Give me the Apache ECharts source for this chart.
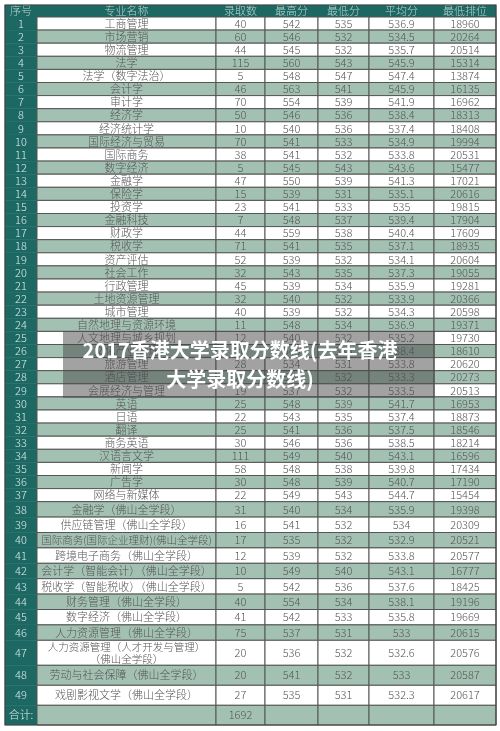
<!DOCTYPE html>
<html><head><meta charset="utf-8">
<script src="https://cdn.jsdelivr.net/npm/echarts@6/dist/echarts.min.js"></script>
<style>html,body{margin:0;padding:0;background:#fff}#c{width:500px;height:731px}</style>
</head><body><div id="c"></div>
<script>
const headers = ['序号','专业名称','录取数','最高分','最低分','平均分','最低排位'];
const majors = ['工商管理','市场营销','物流管理','法学','法学（数字法治）','会计学','审计学','经济学','经济统计学','国际经济与贸易','国际商务','数字经济','金融学','保险学','投资学','金融科技','财政学','税收学','资产评估','社会工作','行政管理','土地资源管理','城市管理','自然地理与资源环境','人文地理与城乡规划','文化产业管理','旅游管理','酒店管理','会展经济与管理','英语','日语','翻译','商务英语','汉语言文学','新闻学','广告学','网络与新媒体','金融学（佛山全学段）','供应链管理（佛山全学段）','国际商务(国际企业理财)(佛山全学段)','跨境电子商务（佛山全学段）','会计学（智能会计）（佛山全学段）','税收学（智能税收）（佛山全学段）','财务管理（佛山全学段）','数字经济（佛山全学段）','人力资源管理（佛山全学段）','人力资源管理（人才开发与管理）\n（佛山全学段）','劳动与社会保障（佛山全学段）','戏剧影视文学（佛山全学段）'];
const admitted = [40,60,44,115,5,46,70,50,10,70,38,5,47,15,23,7,44,71,52,32,45,32,40,11,12,20,28,21,19,25,22,25,30,111,58,30,22,31,16,17,12,10,5,40,41,75,20,20,27];
const maxScore = [542,546,545,560,548,563,554,546,540,541,541,545,550,539,541,548,559,541,539,543,539,540,539,548,540,545,534,540,537,548,543,541,546,549,548,548,549,540,541,535,539,549,542,554,542,537,536,541,535];
const minScore = [535,532,532,543,547,541,539,536,536,533,532,543,539,531,533,537,538,535,532,535,534,532,532,534,532,535,531,532,532,539,535,536,536,540,538,539,543,534,532,532,532,540,536,534,533,531,532,532,531];
const avgScore = ['536.9','534.5','535.7','545.9','547.4','545.9','541.9','538.4','537.4','534.9','533.8','543.6','541.3','535.1','535','539.4','540.4','537.1','534.1','537.3','535.9','533.9','534.3','536.9','535.2','538.4','533.8','533.3','533.5','541.7','537.4','537.5','538.5','543.1','539.8','540.7','544.7','535.9','534','532.9','533.8','543.1','537.6','538.1','535.8','533','532.6','533','532.3'];
const minRank = [18960,20264,20514,15314,13874,16135,16962,18313,18408,19994,20531,15477,17021,20616,19815,17904,17609,18935,20604,19055,19281,20366,20598,19371,19730,18610,20620,20273,20513,16953,18873,18546,18214,16596,17434,17190,15454,19398,20309,20521,20577,16777,18425,19196,19669,20615,20576,20587,20617];
const totalLabel = '合计:';
const totalAdmitted = 1692;
const title = '2017香港大学录取分数线(去年香港\n大学录取分数线)';

// layout (pixels)
const colX = [5,37,216,265,318,369,434,496];
const rowY = [5,17];
{ let y=17; for (let i=0;i<49;i++){ let h = i<37?13.1:(i<46?15.4:(i===46?25:20)); y+=h; rowY.push(y);} rowY.push(725); }

const cells = [];
headers.forEach((h,c)=>cells.push({r:0,c,t:h,kind:'head'}));
for (let i=0;i<49;i++){
  const vals=[String(i+1),majors[i],admitted[i],maxScore[i],minScore[i],avgScore[i],minRank[i]];
  vals.forEach((v,c)=>cells.push({r:i+1,c,t:String(v),kind:c===0?'seq':(i%2===0?'w':'g')}));
}
const tr=50;
[totalLabel,'',String(totalAdmitted),'','','',''].forEach((v,c)=>cells.push({r:tr,c,t:v,kind:c===0?'seq':'g'}));

const data = cells.map(o=>[colX[o.c],rowY[o.r],colX[o.c+1],rowY[o.r+1],o.t,o.kind,o.c]);
const chart = echarts.init(document.getElementById('c'));
chart.setOption({
  animation:false,
  grid:{left:0,right:0,top:0,bottom:0},
  xAxis:{type:'value',min:0,max:500,show:false},
  yAxis:{type:'value',min:0,max:731,inverse:true,show:false},
  series:[{
    type:'custom',
    data,
    renderItem(params,api){
      const p0=api.coord([api.value(0),api.value(1)]);
      const p1=api.coord([api.value(2),api.value(3)]);
      const d=data[params.dataIndex];
      const kind=d[5], col=d[6];
      const fill = kind==='head'||kind==='seq' ? '#1d6863' : (kind==='g' ? '#a3c1b3' : '#ffffff');
      const color = kind==='head' ? '#b9d3cf' : (kind==='seq' ? '#d8ebe8' : '#555');
      const fs = (col===1 && d[4].length>16) ? 10.5 : 11;
      return {type:'group',children:[
        {type:'rect',shape:{x:p0[0],y:p0[1],width:p1[0]-p0[0],height:p1[1]-p0[1]},
         style:{fill,stroke:(kind==='head'||kind==='seq')?'#1d6863':'#555',lineWidth:(kind==='head'||kind==='seq')?0.5:1}},
        {type:'text',x:(p0[0]+p1[0])/2,y:(p0[1]+p1[1])/2,
         style:{text:d[4],fill:color,font:'300 '+fs+'px "Noto Sans CJK SC"',align:'center',verticalAlign:'middle',lineHeight:12.5}}
      ]};
    }
  }],
  graphic:[
    {type:'rect',shape:{x:5,y:5,width:491,height:720},style:{fill:'none',stroke:'#444',lineWidth:1.2},z:100},
    {type:'rect',shape:{x:63,y:331,width:372,height:67},style:{fill:'rgba(70,70,70,0.5)'},z:101},
    {type:'text',x:240,y:365,style:{text:title,fill:'#fff',font:'bold 20px "Noto Sans CJK SC"',align:'center',verticalAlign:'middle',lineHeight:29},z:102}
  ]
});
</script></body></html>
